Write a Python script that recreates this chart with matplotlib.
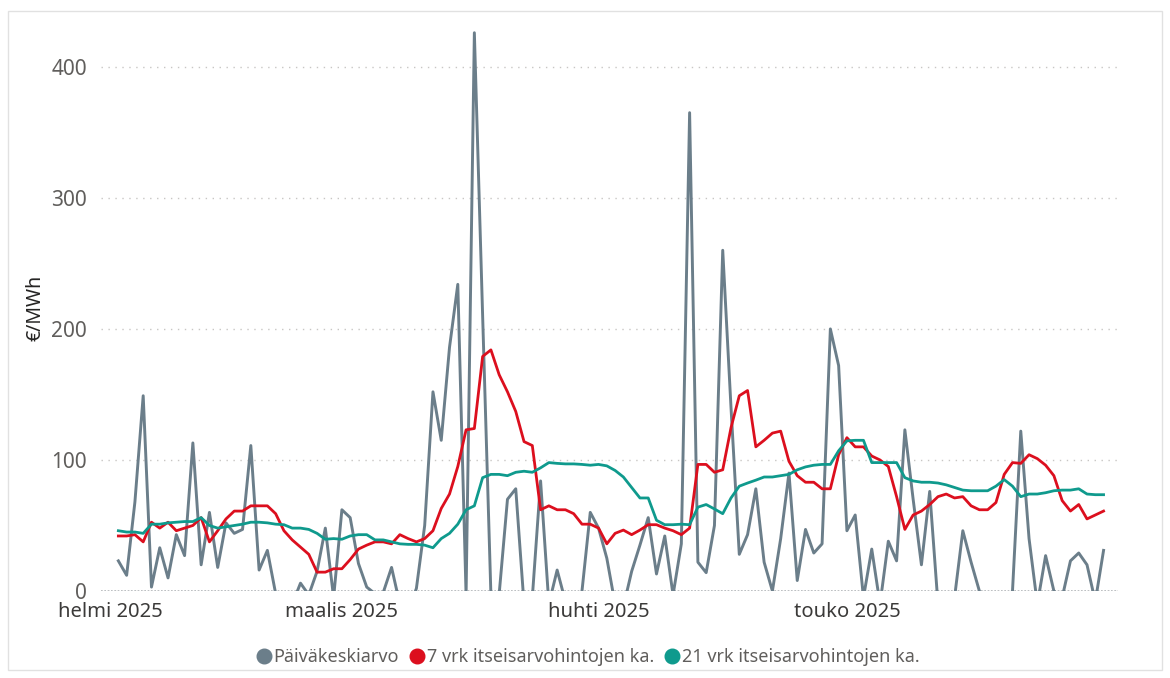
import pandas as pd
import matplotlib
matplotlib.use("Agg")
import matplotlib.pyplot as plt
from matplotlib.patches import Rectangle
from matplotlib.lines import Line2D

plt.rcParams['font.family'] = ['Noto Sans', 'DejaVu Sans']

# daily values (negatives are clipped by the axis)
daily = [23, 12, 68, 149, 3, 33, 10, 43, 27, 113,
         20, 60, 18, 52, 44, 47, 111, 16, 31, -2,
         -25, -10, 6, -3, 15, 48, -5, 62, 56, 21,
         3, -2, -1, 18, -10, -15, 2, 50, 152, 115,
         186, 234, -3, 426, 210, -3, -2, 70, 78, -10,
         -5, 84, -10, 16, -8, -12, 0, 60, 48, 25,
         -10, -12, 15, 35, 56, 13, 42, -3, 36, 365,
         22, 14, 50, 260, 140, 28, 43, 78, 22, 0,
         40, 90, 8, 47, 29, 36, 200, 172, 46, 58,
         -5, 32, -10, 38, 23, 123, 70, 20, 76, -10,
         -15, -5, 46, 22, 0, -10, -15, -8, 0, 122,
         40, -10, 27, 0, -5, 23, 29, 20, -8, 31]

avg7 = [42, 42, 43, 37.5, 52.5, 48, 52.5, 46, 48, 50,
        56, 37.5, 46, 55, 61, 61, 65, 65, 65, 59,
        46, 39, 33.5, 28, 14.4, 14.4, 17, 17, 24, 32,
        35, 37.5, 37.5, 36, 43, 40, 37.5, 40, 46, 63,
        74, 95, 123, 124, 179, 184, 165, 152, 137, 114,
        111, 62, 65, 62, 62, 59, 51, 51, 48, 36,
        44, 46.5, 43, 46.5, 50.6, 50.6, 48, 46, 43, 48,
        96.6, 96.6, 90.6, 92.5, 124.6, 149, 153, 110, 115, 120.5,
        122, 99, 88, 83, 83, 78, 78, 104, 117, 110,
        110, 103, 100, 95, 72, 47, 58, 61, 66, 72,
        74, 71, 72, 65, 62, 62, 67.5, 89, 98, 97.4,
        104, 101, 96, 88, 69, 61, 66, 55, 58, 61]

avg21 = [46, 45, 45, 44, 51, 51, 52, 52.5, 53, 53,
         56, 50, 48, 49, 50, 51, 52.5, 52.5, 52, 51,
         50.6, 48, 48, 47, 44, 39.5, 40, 39.5, 42, 43,
         43, 39, 39, 37.5, 36, 35.6, 35.6, 35, 33, 40,
         44, 51, 62, 65, 86.5, 89, 89, 88, 90.6, 91.4,
         90.6, 94, 98, 97.4, 97, 97, 96.6, 96, 96.6, 95.5,
         92, 87, 79, 71, 71, 54, 50.6, 50.6, 51, 50.6,
         64, 66, 62.6, 59, 71, 80, 82.4, 84.6, 87, 87,
         88, 89, 92.5, 94.7, 96, 96.6, 96.6, 107, 114.6, 115,
         115, 98, 98, 98, 98, 86.5, 84, 83, 83, 82.4,
         81, 79, 77, 76.5, 76.5, 76.5, 80, 85, 80, 72,
         74, 74, 75, 76.5, 77, 77, 78, 74, 73.5, 73.5]

dates = pd.date_range("2025-02-02", periods=len(daily), freq="D")
month_ticks = pd.to_datetime(["2025-02-01", "2025-03-01", "2025-04-01", "2025-05-01"])
month_labels = ["helmi 2025", "maalis 2025", "huhti 2025", "touko 2025"]
legend_labels = ["Päiväkeskiarvo", "7 vrk itseisarvohintojen ka.", "21 vrk itseisarvohintojen ka."]

c_gray = "#6b7e8a"
c_red = "#dc0f1e"
c_teal = "#0f9a8d"

fig = plt.figure(figsize=(11.7, 6.78), dpi=100)
ax = fig.add_axes([0.0863, 0.1283, 0.8693, 0.835])

ax.plot(dates, daily, color=c_gray, lw=2.1)
ax.plot(dates, avg7, color=c_red, lw=2.0)
ax.plot(dates, avg21, color=c_teal, lw=2.0)

ax.set_ylim(0, 432)
ax.set_xlim(dates[0] - pd.Timedelta(days=2.1), dates[-1] + pd.Timedelta(days=1.75))
ax.set_yticks([0, 100, 200, 300, 400])
ax.grid(axis="y", color="#c8c6c4", linestyle=(0, (1, 4)), lw=1)
ax.axhline(0, color="#b0b4b8", lw=1.2, linestyle=(0, (1, 1)), zorder=0.5)
ax.set_xticks(month_ticks)
ax.set_xticklabels(month_labels)

for s in ax.spines.values():
    s.set_visible(False)
ax.tick_params(axis="both", length=0)
ax.tick_params(axis="y", labelsize=15, labelcolor="#605e5c", pad=10)
ax.tick_params(axis="x", labelsize=14.5, labelcolor="#3b3a39", pad=8)
ax.set_ylabel("€/MWh", fontsize=14, color="#252423", labelpad=4)

handles = [Line2D([], [], marker="o", linestyle="", markersize=10.5, color=c) for c in (c_gray, c_red, c_teal)]
fig.legend(handles, legend_labels, loc="center", bbox_to_anchor=(0.502, 0.031), ncol=3,
           frameon=False, fontsize=13, labelcolor="#605e5c", handletextpad=0.05,
           columnspacing=0.5, handlelength=1.0)

fig.patches.append(Rectangle((0.007, 0.012), 0.986, 0.972, transform=fig.transFigure,
                             fill=False, edgecolor="#e1e1e1", lw=1))

fig.savefig("out.png", dpi=100)
